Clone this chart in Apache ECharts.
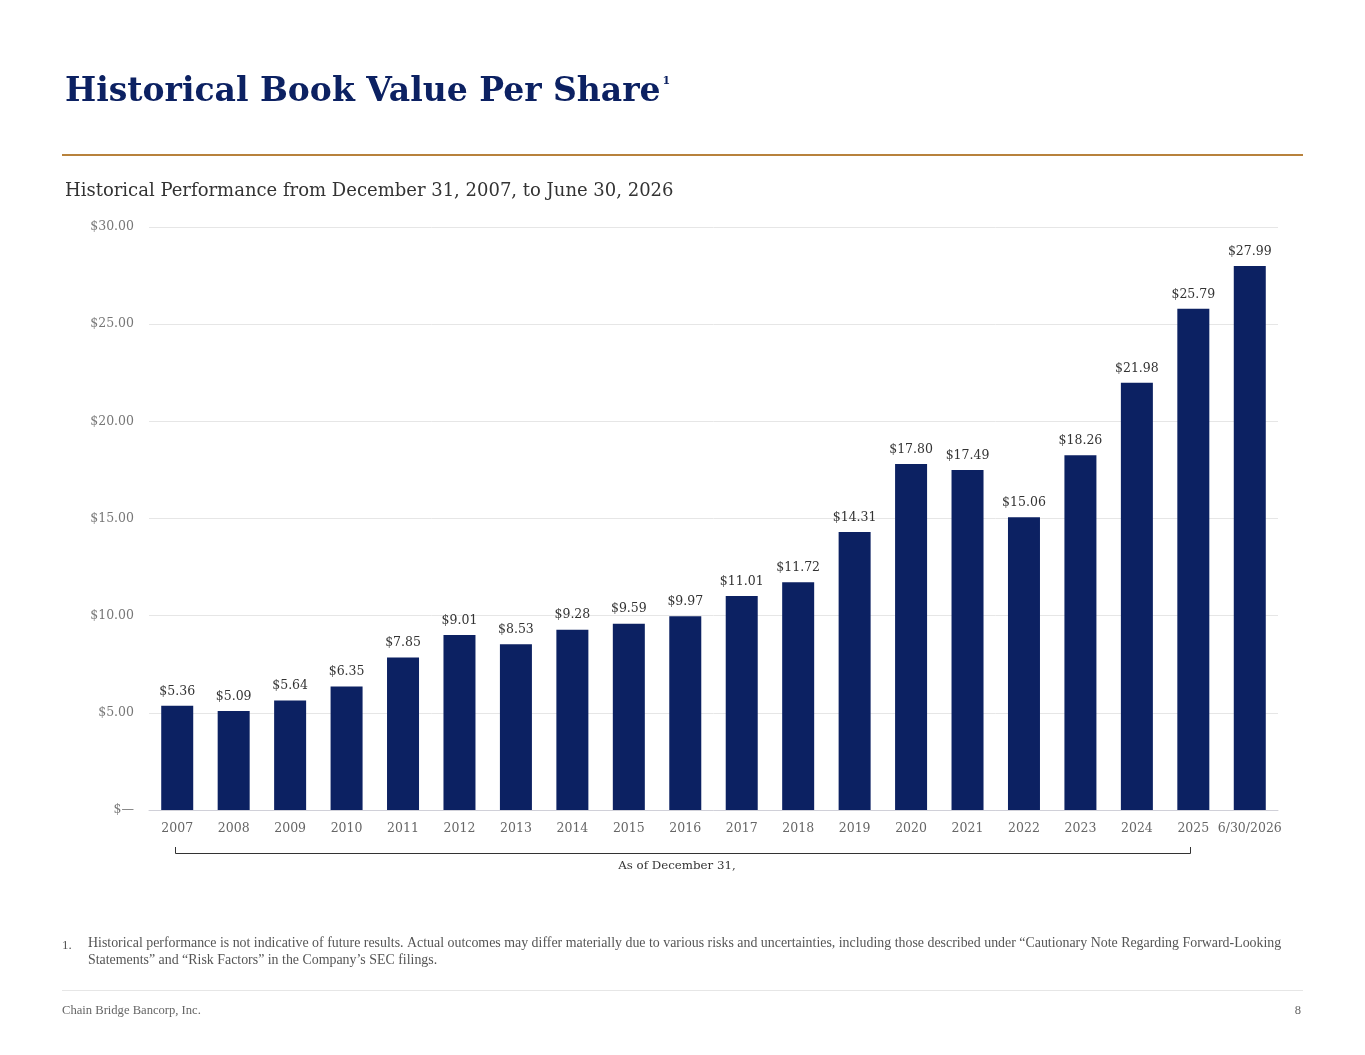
<!DOCTYPE html>
<html><head><meta charset="utf-8">
<script src="https://cdn.jsdelivr.net/npm/echarts@6/dist/echarts.min.js"></script>
<style>html,body{margin:0;padding:0;background:#fff}#c{width:1365px;height:1055px}</style>
</head><body><div id="c"></div>
<script>
const categories = ['2007','2008','2009','2010','2011','2012','2013','2014','2015','2016','2017','2018','2019','2020','2021','2022','2023','2024','2025','6/30/2026'];
const bookValues = [5.36,5.09,5.64,6.35,7.85,9.01,8.53,9.28,9.59,9.97,11.01,11.72,14.31,17.80,17.49,15.06,18.26,21.98,25.79,27.99];
const yTicks = [0,5,10,15,20,25,30];

const DJ = '"DejaVu Serif",serif';
const LS = '"Liberation Serif",serif';
const chart = echarts.init(document.getElementById('c'));
chart.setOption({
  animation:false,
  grid:{left:149,right:87,top:227,bottom:245},
  xAxis:{type:'category',data:categories,
    axisLine:{lineStyle:{color:'#d0d0d8'}},axisTick:{show:false},
    axisLabel:{color:'#666',fontFamily:DJ,fontSize:12.5,margin:12,interval:0}},
  yAxis:{type:'value',min:yTicks[0],max:yTicks[yTicks.length-1],interval:yTicks[1]-yTicks[0],
    axisLine:{show:false},axisTick:{show:false},
    splitLine:{lineStyle:{color:'#e6e6e6'}},
    axisLabel:{color:'#777',fontFamily:DJ,fontSize:12.5,margin:15,
      formatter:v=>v===0?'$—':'$'+v.toFixed(2)}},
  series:[{type:'bar',data:bookValues,barWidth:32,itemStyle:{color:'#0c2162'},
    label:{show:true,position:'top',distance:8,color:'#333',fontFamily:DJ,fontSize:12.5,
      formatter:p=>'$'+p.value.toFixed(2)}}],
  graphic:[
    {type:'text',x:65,y:76,style:{text:'{t|Historical Book Value Per Share}{s|1}',
      rich:{t:{fill:'#0c2162',font:'bold 33px '+DJ},s:{fill:'#0c2162',font:'bold 11px '+DJ,verticalAlign:'top',padding:[0,0,19,2]}}}},
    {type:'rect',shape:{x:62,y:154,width:1241,height:2},style:{fill:'#b8823c'}},
    {type:'text',x:65,y:182,style:{text:'Historical Performance from December 31, 2007, to June 30, 2026',fill:'#333',font:'18px '+DJ}},
    {type:'polyline',shape:{points:[[175.5,847],[175.5,853.5],[1190.5,853.5],[1190.5,847]]},style:{stroke:'#333',lineWidth:1,fill:null}},
    {type:'text',x:677,y:860,style:{text:'As of December 31,',fill:'#333',font:'11.8px '+DJ,textAlign:'center'}},
    {type:'text',x:62,y:939,style:{text:'1.',fill:'#555',font:'13px '+LS}},
    {type:'text',x:88,y:935,style:{text:'Historical performance is not indicative of future results. Actual outcomes may differ materially due to various risks and uncertainties, including those described under “Cautionary Note Regarding Forward-Looking\nStatements” and “Risk Factors” in the Company’s SEC filings.',fill:'#555',font:'13.9px '+LS,lineHeight:17}},
    {type:'rect',shape:{x:62,y:990,width:1241,height:1},style:{fill:'#e6e6e6'}},
    {type:'text',x:62,y:1004,style:{text:'Chain Bridge Bancorp, Inc.',fill:'#666',font:'12.6px '+LS}},
    {type:'text',x:1301,y:1004,style:{text:'8',fill:'#666',font:'12.6px '+LS,textAlign:'right'}}
  ]
});
</script></body></html>
